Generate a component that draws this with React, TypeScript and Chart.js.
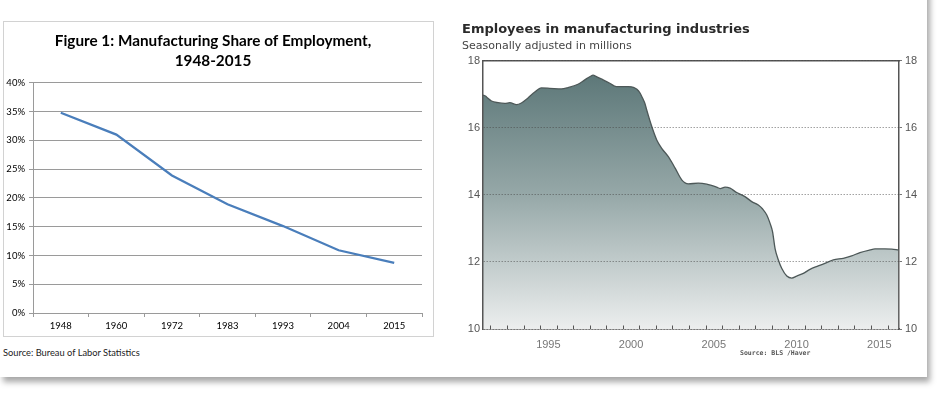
import React, { useEffect, useRef } from "react";
import { Chart, registerables } from "chart.js";

Chart.register(...registerables);

// ---------- Left chart data ----------
const shareYears = ["1948", "1960", "1972", "1983", "1993", "2004", "2015"];
const shareValues = [34.8, 31.0, 23.9, 18.9, 15.1, 10.9, 8.7];
const shareTickStep = 5;
const shareMin = 0;
const shareMax = 40;

// ---------- Right chart data (decimal calendar years, millions) ----------
const empDates = [
  1991.55, 1991.7, 1991.85, 1992.06, 1992.46, 1992.87, 1993.17, 1993.57, 1993.87,
  1994.27, 1994.68, 1995.08, 1995.58, 1996.29, 1996.69, 1997.29, 1997.7, 1998.05,
  1998.2, 1998.4, 1998.81, 1999.21, 1999.61, 2000.32, 2000.64, 2000.85, 2001.04,
  2001.2, 2001.34, 2001.44, 2001.75, 2002.05, 2002.35, 2002.75, 2003.16, 2003.56,
  2003.96, 2004.56, 2005.07, 2005.67, 2005.88, 2006.18, 2006.48, 2006.88, 2007.38,
  2007.79, 2008.19, 2008.45, 2008.7, 2008.9, 2009.05, 2009.2, 2009.4, 2009.6,
  2009.91, 2010.21, 2010.51, 2010.91, 2011.31, 2011.81, 2012.32, 2012.72, 2013.32,
  2013.83, 2014.33, 2014.94, 2015.24, 2015.84, 2016.25, 2016.65,
];
const empValues = [
  16.98, 16.95, 16.88, 16.8, 16.75, 16.73, 16.75, 16.69, 16.74,
  16.89, 17.07, 17.19, 17.18, 17.16, 17.2, 17.3, 17.43, 17.54,
  17.57, 17.53, 17.43, 17.33, 17.23, 17.23, 17.21, 17.15, 17.04,
  16.88, 16.72, 16.54, 16.04, 15.64, 15.39, 15.14, 14.8, 14.45,
  14.33, 14.35, 14.32, 14.23, 14.19, 14.23, 14.2, 14.07, 13.95,
  13.8, 13.7, 13.58, 13.4, 13.15, 12.9, 12.4, 12.06, 11.81,
  11.58, 11.52, 11.58, 11.66, 11.78, 11.88, 11.98, 12.06, 12.11,
  12.18, 12.28, 12.36, 12.39, 12.39, 12.38, 12.36,
];
const empYearLabels = [1995, 2000, 2005, 2010, 2015];
const empYearTicks = [
  1992, 1993, 1994, 1995, 1996, 1997, 1998, 1999, 2000, 2001, 2002, 2003, 2004,
  2005, 2006, 2007, 2008, 2009, 2010, 2011, 2012, 2013, 2014, 2015, 2016,
];
const empAxisMin = 10;
const empAxisMax = 18;
const empAxisStep = 2;
const empXMin = 1991.55;
const empXMax = 2016.69;

const yearTickPlugin = {
  id: "yearTicks",
  afterDatasetsDraw(chart: any) {
    const xs = chart.scales.x;
    const { ctx, chartArea } = chart;
    ctx.save();
    ctx.strokeStyle = "#555";
    ctx.lineWidth = 1;
    for (const yr of empYearTicks) {
      const px = Math.round(xs.getPixelForValue(yr)) + 0.5;
      ctx.beginPath();
      ctx.moveTo(px, chartArea.bottom);
      ctx.lineTo(px, chartArea.bottom - 3.5);
      ctx.stroke();
    }
    ctx.restore();
  },
};

function ShareChart() {
  const ref = useRef<HTMLCanvasElement>(null);
  useEffect(() => {
    const chart = new Chart(ref.current!, {
      type: "line",
      data: {
        labels: shareYears,
        datasets: [
          {
            data: shareValues,
            borderColor: "#4a7ebb",
            borderWidth: 2.25,
            pointRadius: 0,
            tension: 0,
            fill: false,
          },
        ],
      },
      options: {
        animation: false,
        responsive: false,
        maintainAspectRatio: false,
        layout: { padding: { left: 0, right: 11, top: 0, bottom: 0 } },
        plugins: {
          legend: { display: false },
          tooltip: { enabled: false },
          title: {
            display: true,
            text: ["Figure 1: Manufacturing Share of Employment,", "1948-2015"],
            font: { family: "Lato", weight: "bold", size: 15.3, lineHeight: 1.3 },
            color: "#000",
            padding: { top: 9, bottom: 12 },
          },
        },
        scales: {
          x: {
            type: "category",
            offset: true,
            grid: {
              offset: true,
              drawOnChartArea: false,
              drawTicks: true,
              tickLength: 4,
              color: "#9a9a9a",
            },
            border: { color: "#9a9a9a" },
            ticks: {
              font: { family: "Lato", size: 9.5 },
              color: "#000",
              padding: 3,
              maxRotation: 0,
            },
            afterFit: (s: any) => {
              s.height = 23;
            },
          },
          y: {
            min: shareMin,
            max: shareMax,
            ticks: {
              stepSize: shareTickStep,
              callback: (v: any) => v + "%",
              font: { family: "Lato", size: 9.5 },
              color: "#000",
              padding: 4,
            },
            grid: { color: "#9a9a9a", tickLength: 4 },
            border: { color: "#9a9a9a" },
            afterFit: (s: any) => {
              s.width = 29;
            },
          },
        },
      },
    } as any);
    return () => chart.destroy();
  }, []);
  return (
    <canvas
      ref={ref}
      width={429}
      height={314}
      style={{ position: "absolute", left: 4, top: 22, width: 429, height: 314 }}
    />
  );
}

function EmployeesChart() {
  const ref = useRef<HTMLCanvasElement>(null);
  useEffect(() => {
    const tickFont = { family: "Liberation Sans", size: 11 };
    const chart = new Chart(ref.current!, {
      type: "line",
      data: {
        datasets: [
          {
            data: empDates.map((d, i) => ({ x: d, y: empValues[i] })),
            borderColor: "#4d5858",
            borderWidth: 1.3,
            pointRadius: 0,
            cubicInterpolationMode: "monotone",
            fill: "start",
            backgroundColor: (ctx: any) => {
              const { chart } = ctx;
              const area = chart.chartArea;
              if (!area) return "rgba(0,0,0,0)";
              const g = chart.ctx.createLinearGradient(0, area.top, 0, area.bottom);
              g.addColorStop(0, "rgb(86,114,115)");
              g.addColorStop(0.5, "rgb(150,168,168)");
              g.addColorStop(1, "rgb(236,238,238)");
              return g;
            },
          },
        ],
      },
      options: {
        animation: false,
        responsive: false,
        maintainAspectRatio: false,
        layout: { padding: { left: 14, right: 0, top: 0, bottom: 0 } },
        plugins: {
          legend: { display: false },
          tooltip: { enabled: false },
          title: {
            display: true,
            text: "Employees in manufacturing industries",
            align: "start",
            font: { family: "DejaVu Sans", weight: "bold", size: 13, lineHeight: 1.2 },
            color: "#2a2a2a",
            padding: { top: 10, bottom: 0 },
          },
          subtitle: {
            display: true,
            text: "Seasonally adjusted in millions",
            align: "start",
            font: { family: "DejaVu Sans", size: 11, lineHeight: 1.2 },
            color: "#444",
            padding: { top: 2, bottom: 8 },
          },
        },
        scales: {
          x: {
            type: "linear",
            position: "bottom",
            min: empXMin,
            max: empXMax,
            afterBuildTicks: (s: any) => {
              s.ticks = empYearLabels.map((y) => ({ value: y + 0.5 }));
            },
            ticks: {
              callback: (v: any) => String(Math.floor(v)),
              font: tickFont,
              color: "#777",
              padding: 9,
              maxRotation: 0,
              autoSkip: false,
            },
            grid: { display: false, drawTicks: false },
            border: { display: true, color: "#555", width: 1.5 },
            afterFit: (s: any) => {
              s.height = 43;
            },
          },
          xTop: {
            type: "linear",
            position: "top",
            min: empXMin,
            max: empXMax,
            ticks: { display: false },
            grid: { display: false, drawTicks: false },
            border: { display: true, color: "#555", width: 1.5 },
            afterFit: (s: any) => {
              s.height = 0;
            },
          },
          y: {
            position: "left",
            min: empAxisMin,
            max: empAxisMax,
            ticks: { stepSize: empAxisStep, font: tickFont, color: "#555", padding: 3 },
            grid: { color: "rgba(70,70,70,0.5)", drawTicks: false, lineWidth: 1, z: 1 },
            border: { color: "#555", width: 1.5, dash: [1.5, 1.5], z: 1 },
            afterFit: (s: any) => {
              s.width = 21;
            },
          },
          y2: {
            position: "right",
            min: empAxisMin,
            max: empAxisMax,
            ticks: { stepSize: empAxisStep, font: tickFont, color: "#555", padding: 3 },
            grid: { drawOnChartArea: false, tickLength: 3, color: "#777" },
            border: { color: "#555", width: 1.5 },
            afterFit: (s: any) => {
              s.width = 27;
            },
          },
        },
      },
      plugins: [yearTickPlugin],
    } as any);
    return () => chart.destroy();
  }, []);
  return (
    <canvas
      ref={ref}
      width={478}
      height={360}
      style={{ position: "absolute", left: 448, top: 12, width: 478, height: 360 }}
    />
  );
}

export default function App() {
  return (
    <div
      style={{
        position: "absolute",
        left: 0,
        top: 0,
        width: 942,
        height: 395,
        background: "#fff",
        overflow: "hidden",
      }}
    >
      <div
        style={{
          position: "absolute",
          left: 0,
          top: -30,
          width: 927,
          height: 407,
          background: "#fff",
          boxShadow: "3px 5px 6px rgba(0,0,0,0.35)",
        }}
      />
      <div
        style={{
          position: "absolute",
          left: 3,
          top: 21,
          width: 429,
          height: 314,
          border: "1px solid #d2d2d2",
          background: "#fff",
        }}
      />
      <ShareChart />
      <div
        style={{
          position: "absolute",
          left: 3,
          top: 347,
          fontFamily: "Lato",
          fontSize: 9.3,
          color: "#222",
          whiteSpace: "nowrap",
        }}
      >
        Source: Bureau of Labor Statistics
      </div>
      <EmployeesChart />
      <div
        style={{
          position: "absolute",
          left: 740,
          top: 349,
          fontFamily: "DejaVu Sans Mono",
          fontSize: 6.5,
          fontWeight: "bold",
          color: "#555",
          whiteSpace: "nowrap",
        }}
      >
        Source: BLS /Haver
      </div>
    </div>
  );
}
